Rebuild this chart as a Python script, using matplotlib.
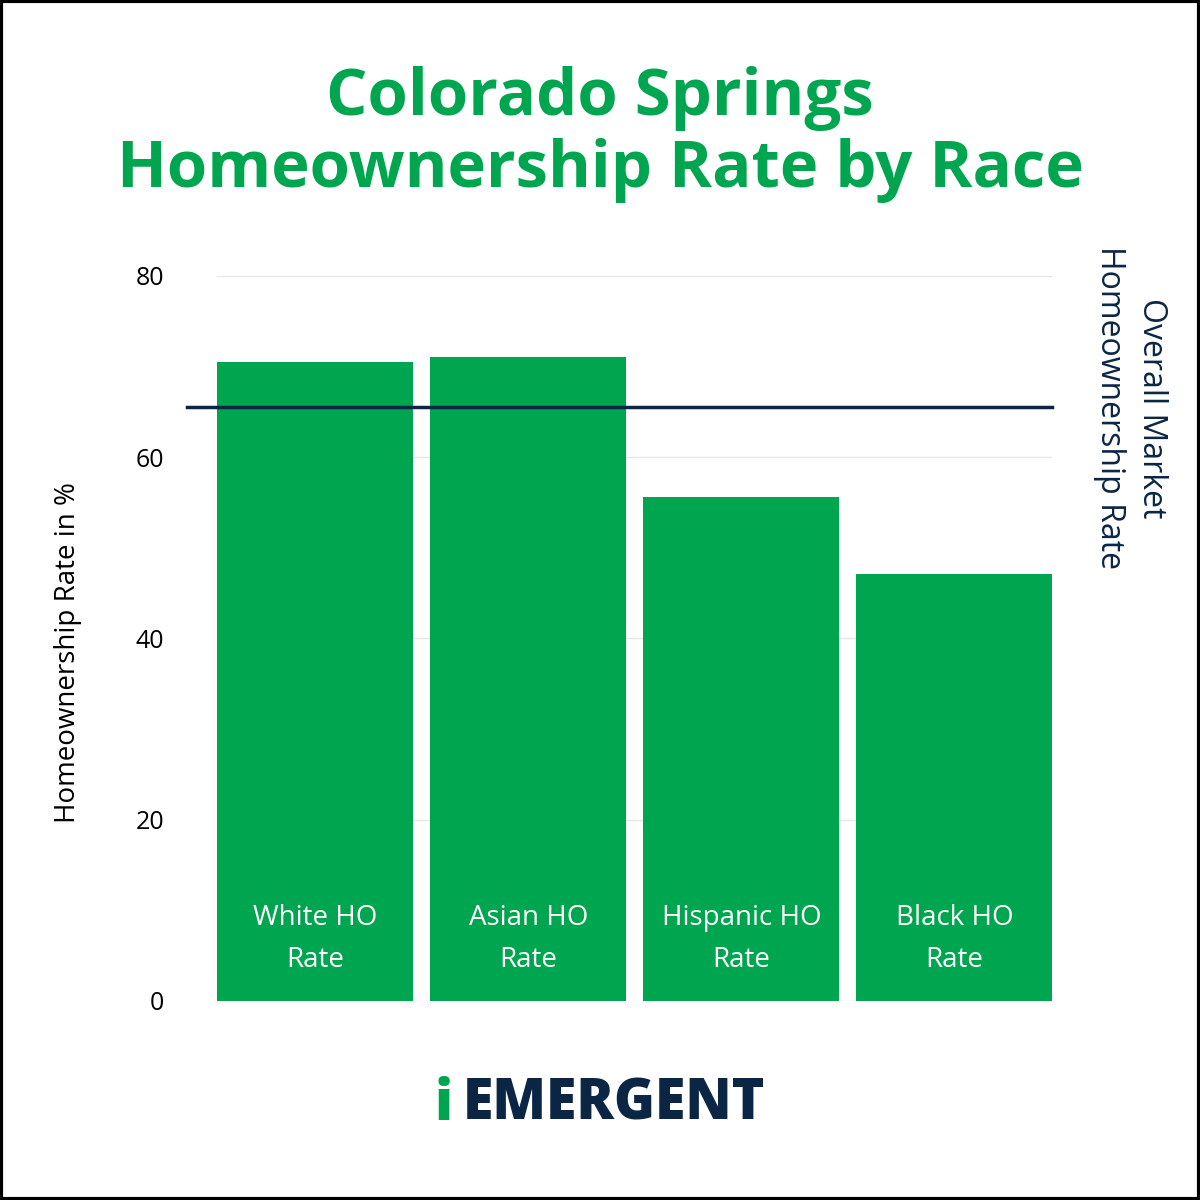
import matplotlib.pyplot as plt
from matplotlib.patches import Rectangle

# data
categories = ["White HO\nRate", "Asian HO\nRate", "Hispanic HO\nRate", "Black HO\nRate"]
rates = [70.5, 71.1, 55.6, 47.1]
overall_rate = 65.5
yticks = [0, 20, 40, 60, 80]

GREEN = "#00A64F"
NAVY = "#0B2545"

fig = plt.figure(figsize=(12, 12), dpi=100)
ax = fig.add_axes([0.181, 0.166, 0.696, 0.604])

x = list(range(len(categories)))
ax.bar(x, rates, width=0.92, color=GREEN, zorder=2)

for xi, lab in zip(x, categories):
    ax.text(xi, 6.8, lab, ha="center", va="center", color="white",
            fontsize=20, family="Open Sans", linespacing=1.65, zorder=3)

ax.plot([-0.6, 3.46], [overall_rate, overall_rate], color=NAVY, lw=2.5,
        clip_on=False, zorder=4)

ax.set_xlim(-0.46, 3.46)
ax.set_ylim(0, 80)
ax.set_yticks(yticks)
ax.set_xticks([])
ax.yaxis.grid(True, color="#e6e6e6", lw=1, zorder=0)
for s in ax.spines.values():
    s.set_visible(False)
ax.tick_params(axis="y", length=0, pad=38, labelsize=18)
for t in ax.get_yticklabels():
    t.set_family("Open Sans")
ax.set_ylabel("Homeownership Rate in %", fontsize=20, family="Open Sans")
ax.yaxis.set_label_coords(-0.162, 0.48)

fig.text(0.942, 0.66, "Overall Market\nHomeownership Rate", rotation=-90,
         ha="center", va="center", fontsize=23, color=NAVY, family="Open Sans",
         linespacing=1.35)

fig.text(0.5, 0.888, "Colorado Springs\nHomeownership Rate by Race", ha="center",
         va="center", fontsize=47, fontweight="bold", color=GREEN,
         family="Open Sans", linespacing=1.15)

# logo
fig.text(0.512, 0.079, "EMERGENT", ha="center", va="center", fontsize=40,
         fontweight="heavy", color=NAVY, family="Open Sans")
fig.text(0.37, 0.079, "i", ha="center", va="center", fontsize=40,
         fontweight="heavy", color=GREEN, family="Open Sans")

fig.patches.append(Rectangle((0.001, 0.001), 0.998, 0.998, transform=fig.transFigure,
                             fill=False, ec="black", lw=3))

fig.savefig("out.png", dpi=100)
